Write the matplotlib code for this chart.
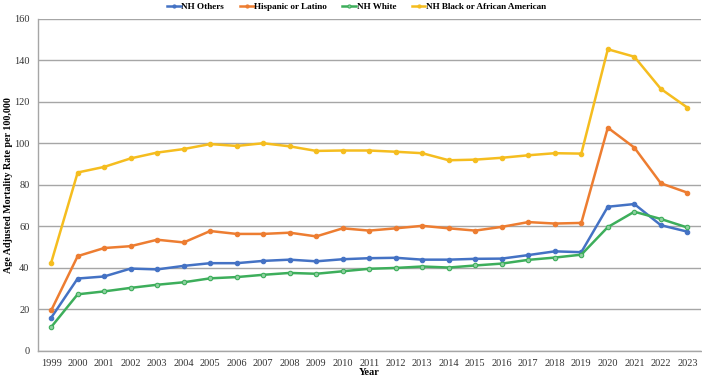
import matplotlib as mpl
import matplotlib.pyplot as plt
import numpy as np

mpl.rcParams["font.family"] = "serif"
mpl.rcParams["font.serif"] = ["Liberation Serif", "DejaVu Serif"]

years = list(range(1999, 2024))
nh_others = [16.0, 34.9, 35.9, 39.7, 39.3, 41.0, 42.3, 42.3, 43.4, 44.0, 43.2, 44.2, 44.7,
             44.9, 44.0, 44.0, 44.4, 44.5, 46.2, 48.0, 47.6, 69.5, 70.8, 60.6, 57.5]
hispanic = [19.5, 45.7, 49.6, 50.5, 53.6, 52.3, 57.8, 56.4, 56.4, 57.0, 55.2, 59.1, 58.0,
            59.1, 60.3, 59.1, 58.0, 59.8, 62.1, 61.4, 61.7, 107.6, 98.0, 80.8, 76.3]
nh_white = [11.5, 27.3, 28.7, 30.4, 31.9, 33.1, 35.0, 35.6, 36.7, 37.6, 37.2, 38.4, 39.6,
            40.0, 40.7, 40.2, 41.2, 42.1, 43.9, 45.0, 46.4, 59.7, 67.1, 63.6, 59.5]
nh_black = [42.5, 86.0, 88.7, 92.8, 95.6, 97.3, 99.7, 98.8, 100.1, 98.6, 96.4, 96.6, 96.6,
            96.0, 95.3, 91.9, 92.2, 93.1, 94.3, 95.3, 95.1, 145.4, 141.8, 126.3, 117.3]

series = [
    ("NH Others", nh_others, "#4472C4", "#4472C4"),
    ("Hispanic or Latino", hispanic, "#ED7D31", "#ED7D31"),
    ("NH White", nh_white, "#3DAE5B", "#8FD0A0"),
    ("NH Black or African American", nh_black, "#F5BD1F", "#F5BD1F"),
]

fig = plt.figure(figsize=(7.02, 3.79), dpi=100)
ax = fig.add_axes([0.054, 0.074, 0.944, 0.876])

x = np.arange(len(years))
for label, vals, color, face in series:
    ax.plot(x, vals, "-o", color=color, lw=1.8, ms=3.2, mfc=face, mec=color,
            mew=0.8, label=label)

ax.set_xlim(-0.5, len(years) - 0.5)
ax.set_ylim(0, 160)
ax.set_yticks(np.arange(0, 161, 20))
ax.set_xticks(x)
ax.set_xticklabels([str(y) for y in years])
ax.tick_params(axis="both", length=0, labelsize=7.5, colors="#333333")
ax.tick_params(axis="x", pad=6)
ax.tick_params(axis="y", pad=6)
ax.grid(axis="y", color="#A6A6A6", lw=1.0)
ax.set_axisbelow(True)
for side in ["top", "right"]:
    ax.spines[side].set_visible(False)
for side in ["left", "bottom"]:
    ax.spines[side].set_color("#A6A6A6")
    ax.spines[side].set_linewidth(1.0)

ax.set_xlabel("Year", fontsize=7.5, fontweight="bold")
ax.xaxis.set_label_coords(0.5, -0.052)
ax.set_ylabel("Age Adjusted Mortality Rate per 100,000", fontsize=7.2,
              fontweight="bold")
ax.yaxis.set_label_coords(-0.038, 0.5)

ax.legend(loc="upper center", bbox_to_anchor=(0.481, 1.074), ncol=4, frameon=False,
          prop={"weight": "bold", "size": 6.6}, handlelength=1.5, columnspacing=1.7,
          handletextpad=0.05, markerscale=0.7)

fig.savefig("out.png", dpi=100)
